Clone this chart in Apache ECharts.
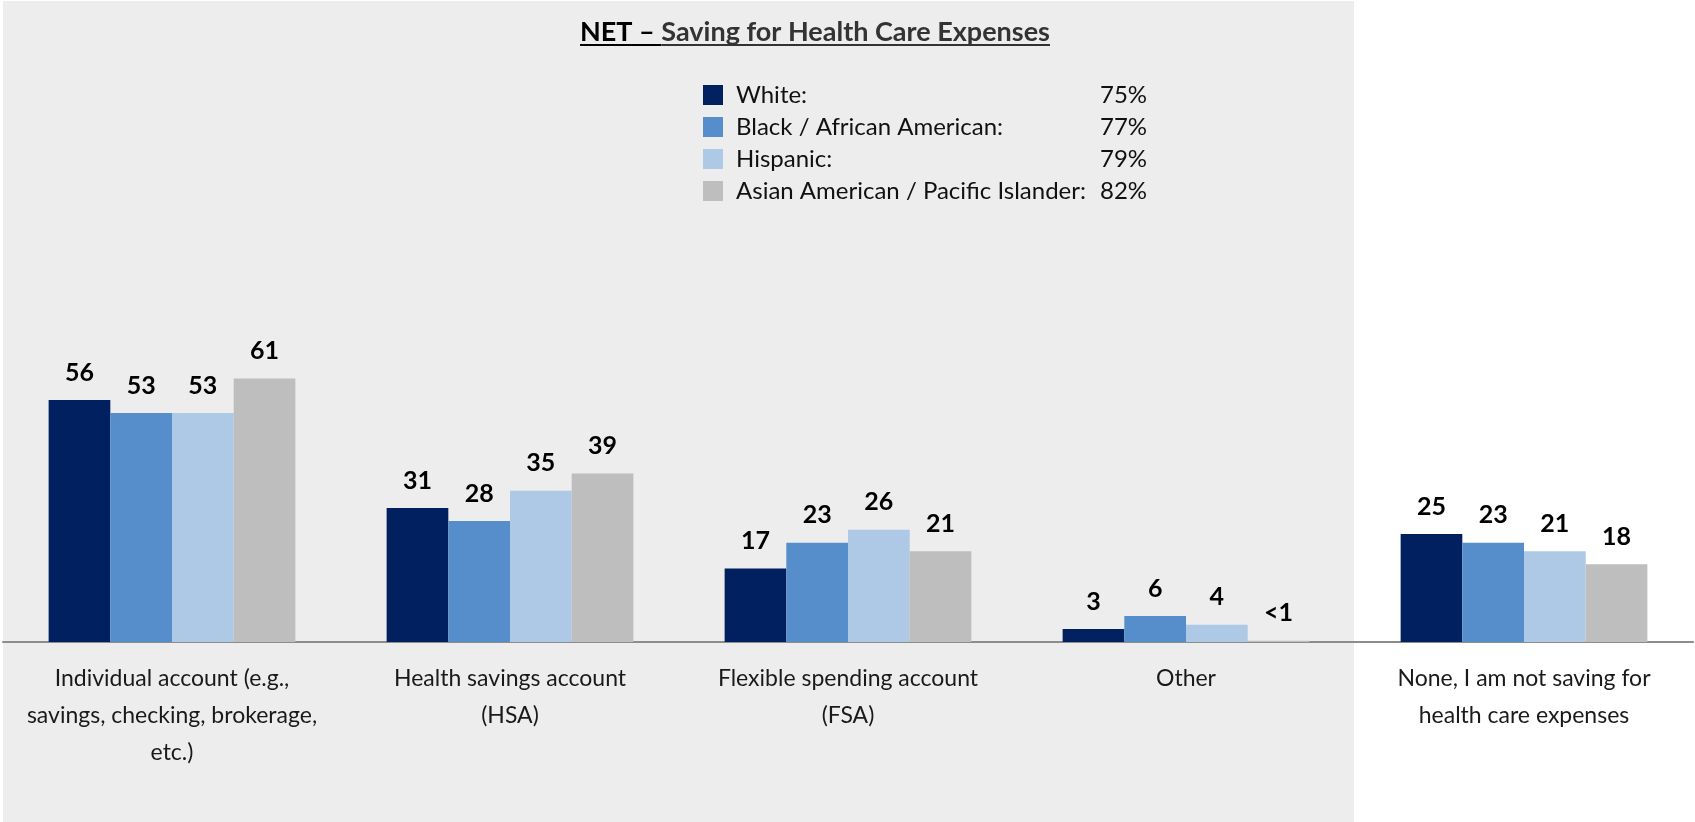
<!DOCTYPE html>
<html>
<head>
<meta charset="utf-8">
<style>
  html, body { margin: 0; padding: 0; background: #ffffff; }
  #chart { width: 1695px; height: 822px; }
</style>
<script src="https://cdn.jsdelivr.net/npm/echarts@6/dist/echarts.min.js"></script>
</head>
<body>
<div id="chart"></div>
<script>
// Account types (x categories)
const categories = [
  'Individual account (e.g.,\nsavings, checking, brokerage,\netc.)',
  'Health savings account\n(HSA)',
  'Flexible spending account\n(FSA)',
  'Other',
  'None, I am not saving for\nhealth care expenses'
];

// Groups and their NET share saving for health care
const groups = ['White', 'Black / African American', 'Hispanic', 'Asian American / Pacific Islander'];
const netShares = ['75%', '77%', '79%', '82%'];

// Percent using each account type, per group
const whiteValues = [56, 31, 17, 3, 25];
const blackValues = [53, 28, 23, 6, 23];
const hispanicValues = [53, 35, 26, 4, 21];
const asianValues = [61, 39, 21, 0.3, 18];

const groupColors = ['#012060', '#558ECA', '#ADC9E5', '#BEBEBE'];

const titleLead = 'NET \u2013 ';
const titleRest = 'Saving for Health Care Expenses';

const FONT = 'Lato, "Open Sans", sans-serif';

const chart = echarts.init(document.getElementById('chart'), null, { renderer: 'canvas' });

// Measure the title parts so the underline spans each run of text
const measureCtx = document.createElement('canvas').getContext('2d');
const titleSize = 27;
measureCtx.font = 'bold ' + titleSize + 'px ' + FONT;
const leadW = measureCtx.measureText(titleLead).width;
const restW = measureCtx.measureText(titleRest).width;
const titleCenter = 815;
const titleLeft = titleCenter - (leadW + restW) / 2;
const titleMid = 32;
const underlineY = 44;

const seriesData = [whiteValues, blackValues, hispanicValues, asianValues];

const series = groups.map((name, i) => ({
  name: name,
  type: 'bar',
  data: seriesData[i],
  barGap: 0,
  barCategoryGap: '27%',
  itemStyle: { color: groupColors[i] },
  label: {
    show: true,
    position: 'top',
    distance: 15,
    fontFamily: FONT,
    fontWeight: 'bold',
    fontSize: 25,
    color: '#000000',
    formatter: p => (p.value < 1 ? '<1' : String(p.value))
  }
}));

const option = {
  animation: false,
  backgroundColor: '#ffffff',
  graphic: [
    {
      type: 'rect',
      z: -10,
      shape: { x: 3, y: 1, width: 1351, height: 821 },
      style: { fill: '#EDEDED' },
      silent: true
    },
    {
      type: 'text',
      x: titleLeft,
      y: titleMid,
      style: {
        text: titleLead,
        font: 'bold ' + titleSize + 'px ' + FONT,
        fill: '#000000',
        verticalAlign: 'middle',
        align: 'left'
      }
    },
    {
      type: 'text',
      x: titleLeft + leadW,
      y: titleMid,
      style: {
        text: titleRest,
        font: 'bold ' + titleSize + 'px ' + FONT,
        fill: '#333333',
        verticalAlign: 'middle',
        align: 'left'
      }
    },
    {
      type: 'rect',
      shape: { x: titleLeft, y: underlineY, width: leadW, height: 2 },
      style: { fill: '#000000' }
    },
    {
      type: 'rect',
      shape: { x: titleLeft + leadW, y: underlineY, width: restW, height: 2 },
      style: { fill: '#333333' }
    }
  ],
  legend: {
    orient: 'vertical',
    left: 703,
    top: 83,
    padding: 0,
    itemWidth: 20,
    itemHeight: 20,
    itemGap: 8,
    icon: 'rect',
    data: groups,
    selectedMode: false,
    formatter: name => {
      const i = groups.indexOf(name);
      return '{n|' + name + ':}{p|' + netShares[i] + '}';
    },
    textStyle: {
      fontFamily: FONT,
      fontSize: 24,
      lineHeight: 20,
      color: '#111111',
      padding: [0, 0, 0, 8],
      rich: {
        n: { fontFamily: FONT, fontSize: 24, color: '#111111', width: 364, lineHeight: 20 },
        p: { fontFamily: FONT, fontSize: 24, color: '#111111', lineHeight: 20 }
      }
    }
  },
  grid: {
    left: 3,
    right: 2,
    top: 210,
    bottom: 180,
    containLabel: false
  },
  xAxis: {
    type: 'category',
    data: categories,
    axisTick: { show: false },
    axisLine: { lineStyle: { color: '#8C8C8C', width: 2 } },
    axisLabel: {
      interval: 0,
      margin: 18,
      fontFamily: FONT,
      fontSize: 23,
      lineHeight: 37,
      color: '#1A1A1A',
      align: 'center'
    }
  },
  yAxis: {
    type: 'value',
    min: 0,
    max: 100,
    show: false,
    splitLine: { show: false }
  },
  series: series
};

chart.setOption(option);
</script>
</body>
</html>
